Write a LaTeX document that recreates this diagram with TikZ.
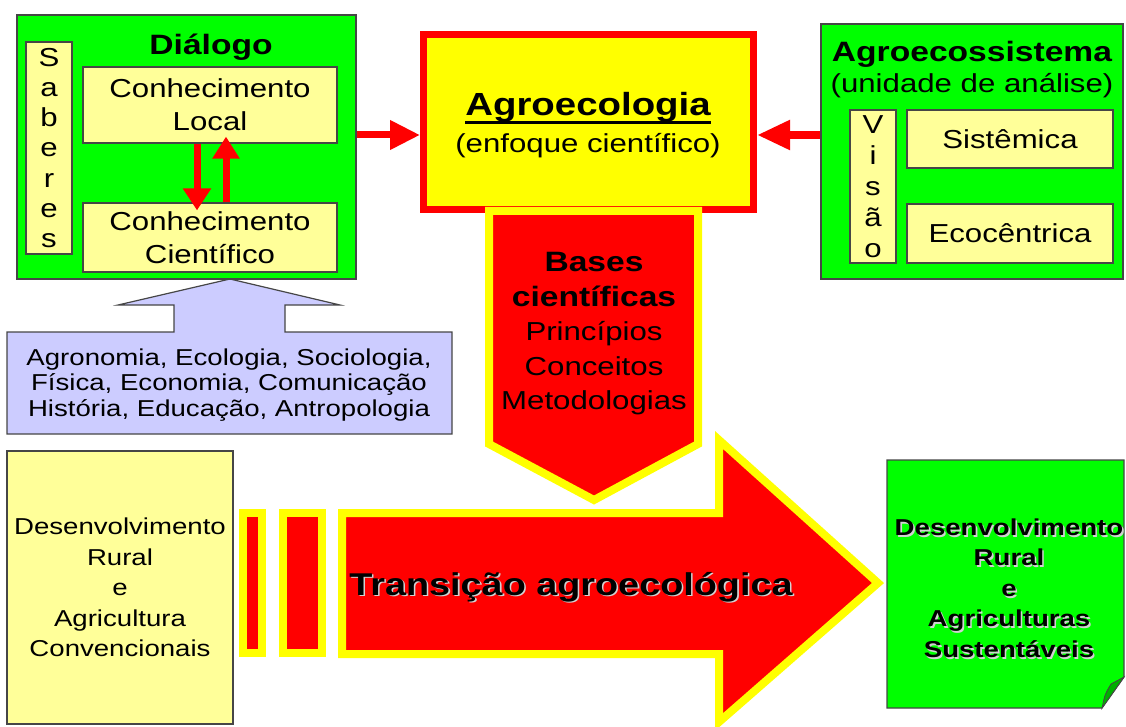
\documentclass[tikz,border=0pt]{standalone}
\usepackage{fontspec}
\setmainfont{Liberation Sans}[FakeStretch=1.2]
\usepackage{tikz}
\usetikzlibrary{arrows.meta}
\definecolor{vivgreen}{RGB}{0,255,0}
\definecolor{darkfold}{RGB}{0,175,0}
\definecolor{paleyellow}{RGB}{255,255,153}
\definecolor{vivyellow}{RGB}{255,255,0}
\definecolor{vivred}{RGB}{255,0,0}
\definecolor{lavender}{RGB}{204,204,255}
\definecolor{edgegray}{RGB}{70,70,70}
\newcommand{\fnorm}{\fontsize{26}{33}\selectfont}
\newcommand{\fhead}{\fontsize{28}{33}\selectfont\bfseries}
\newcommand{\fsmall}{\fontsize{23}{25.5}\selectfont}
\newcommand{\fbottom}{\fontsize{23}{30.5}\selectfont}
\newcommand{\ulbold}[1]{\setbox0\hbox{#1}\rlap{\rule[-8pt]{\wd0}{2.5pt}}\box0}
\newcommand{\shadowed}[1]{\rlap{\hspace{1.6pt}\raisebox{-1.6pt}{\textcolor{gray!35}{#1}}}#1}

\begin{document}
\begin{tikzpicture}[x=1pt,y=-1pt,
  every node/.style={inner sep=0pt},
  greenbox/.style={draw=edgegray, fill=vivgreen, line width=1.2pt},
  palebox/.style={draw=edgegray, fill=paleyellow, line width=1.2pt, align=center, font=\fnorm},
  redarrow/.style={draw=vivred, line width=7pt},
  yellowrim/.style={draw=vivyellow, fill=vivred, line width=8pt, line join=miter}]
\useasboundingbox (0,0) rectangle (1126,727);
\draw[draw=edgegray, fill=lavender, line width=1.2pt] (7,332) -- (174,332) -- (174,305) -- (118,305) -- (230,279) -- (340,305) -- (285,305) -- (285,332) -- (452,332) -- (452,434) -- (7,434) -- cycle;
\node[font=\fsmall, align=center] (disc) at (229,385) {Agronomia, Ecologia, Sociologia,\\F\'isica, Economia, Comunica\c{c}\~ao\\Hist\'oria, Educa\c{c}\~ao, Antropologia};
\node[greenbox, minimum width=339, minimum height=264] (dlg) at (186.5,147) {};
\node[font=\fhead, anchor=base] (dlgtitle) at (211,55) {Di\'alogo};
\node[palebox, font=\fontsize{26}{30.2}\selectfont, minimum width=46, minimum height=212] (sab) at (49,148) {S\\a\\b\\e\\r\\e\\s};
\node[palebox, minimum width=254, minimum height=76] (local) at (210,105) {Conhecimento\\Local};
\node[palebox, minimum width=254, minimum height=69] (cient) at (210,237.5) {Conhecimento\\Cient\'ifico};
\draw[redarrow, -{Triangle[length=22pt,width=27pt]}, shorten >=-8pt] ([xshift=-13pt]local.south) -- ([xshift=-13pt]cient.north);
\draw[redarrow, -{Triangle[length=22pt,width=26pt]}, shorten >=-7pt] ([xshift=16pt]cient.north) -- ([xshift=16pt]local.south);
\node[draw=vivred, fill=vivyellow, line width=7pt, minimum width=330, minimum height=175] (agro) at (588.5,122) {};
\node[font=\fontsize{32}{36}\selectfont\bfseries, anchor=base] (agrotitle) at (588,116) {\ulbold{Agroecologia}};
\node[font=\fnorm, anchor=base] (agrosub) at (588,153) {(enfoque cient\'ifico)};
\node[greenbox, minimum width=302, minimum height=255] (eco) at (972,151.5) {};
\node[font=\fhead, anchor=base] (ecotitle) at (972,62) {Agroecossistema};
\node[font=\fnorm, anchor=base] (ecosub) at (972,93) {(unidade de an\'alise)};
\node[palebox, font=\fontsize{26}{31}\selectfont, minimum width=46, minimum height=153] (visao) at (873,186.5) {V\\i\\s\\\~a\\o};
\node[palebox, minimum width=206, minimum height=58] (sist) at (1010,139) {Sist\^emica};
\node[palebox, minimum width=206, minimum height=59] (ecoc) at (1010,233.5) {Ecoc\^entrica};
\draw[redarrow, -{Triangle[length=30pt,width=28pt]}] ([yshift=12pt]dlg.east) -- ([yshift=-13pt]agro.west);
\draw[redarrow, line width=8pt, -{Triangle[length=33pt,width=28pt]}] ([yshift=16.5pt]eco.west) -- ([yshift=-13pt]agro.east);
\draw[yellowrim] (489,211) -- (698,211) -- (698,444) -- (594,500) -- (489,444) -- cycle;
\node[font=\fontsize{26}{34.5}\selectfont, align=center] (bases) at (594,334) {{\fontsize{28}{34.5}\selectfont\bfseries Bases}\\{\fontsize{28}{34.5}\selectfont\bfseries cient\'ificas}\\Princ\'ipios\\Conceitos\\Metodologias};
\node[palebox, font=\fbottom, minimum width=226, minimum height=273] (conv) at (120,587.5) {Desenvolvimento\\Rural\\e\\Agricultura\\Convencionais};
\draw[yellowrim] (243,513) rectangle (262,653);
\draw[yellowrim] (283,513) rectangle (322,653);
\draw[yellowrim] (342,513) -- (719,513) -- (719,440) -- (878,583) -- (719,722) -- (719,654) -- (342,654) -- cycle;
\node[font=\fontsize{31.5}{36}\selectfont\bfseries, anchor=base] (trans) at (571,595) {\shadowed{Transi\c{c}\~ao agroecol\'ogica}};
\draw[greenbox] (887,460) -- (1124,460) -- (1124,677) -- (1102,708) -- (887,708) -- cycle;
\draw[draw=edgegray, fill=darkfold, line width=0.8pt] (1102,708) .. controls (1105,694) .. (1111,684) -- (1124,677) -- cycle;
\node[font=\fbottom\bfseries, align=center] (sust) at (1009,589) {\shadowed{Desenvolvimento}\\\shadowed{Rural}\\\shadowed{e}\\\shadowed{Agriculturas}\\\shadowed{Sustent\'aveis}};
\end{tikzpicture}
\end{document}
